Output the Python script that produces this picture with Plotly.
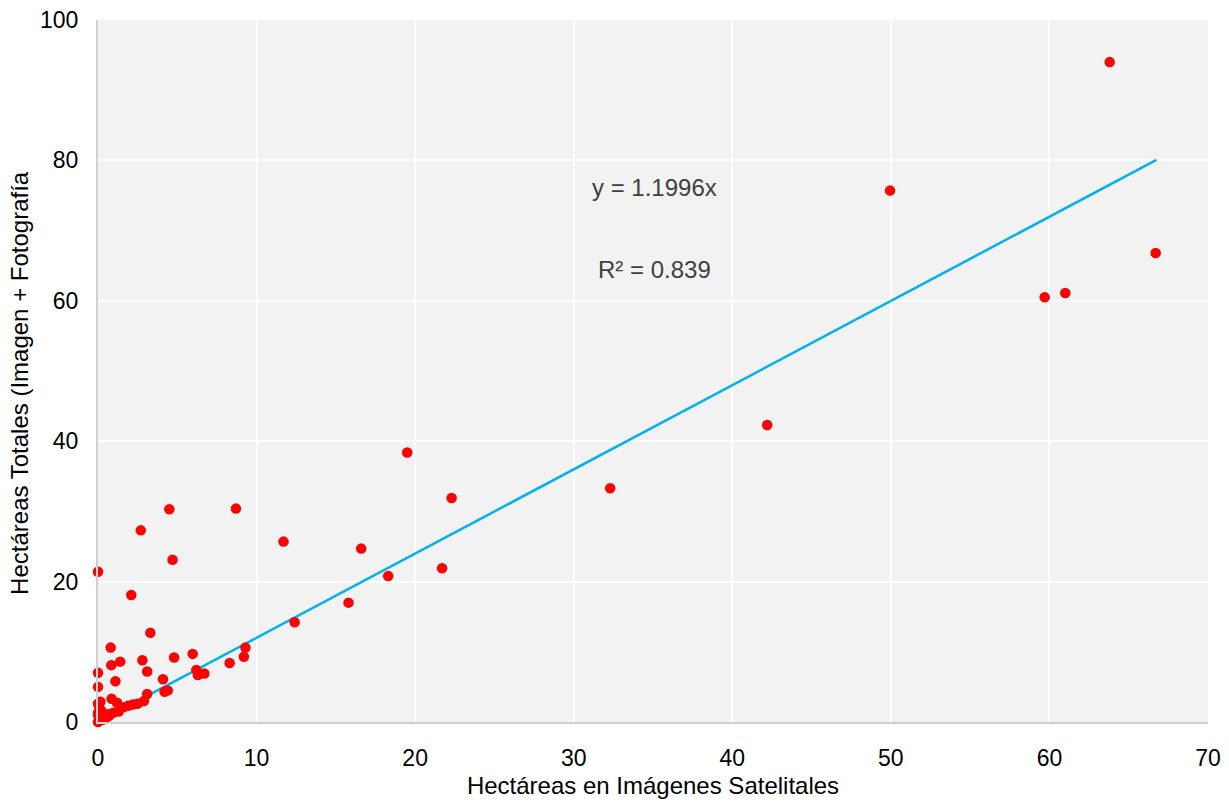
import plotly.graph_objects as go

x_sat = [63.8, 49.95, 66.7, 61.0, 59.7, 42.2, 32.3, 19.5, 22.3, 21.7,
         8.7, 4.5, 2.7, 11.7, 16.6, 4.7, 0.0, 2.1, 18.3, 15.8,
         12.4, 3.3, 0.8, 9.3, 5.97, 4.8, 9.2, 2.8, 1.4, 0.84,
         8.3, 0.0, 3.1, 6.7, 6.3, 6.2, 4.1, 1.1, 0.0, 3.1,
         4.2, 4.4, 2.9, 0.86, 1.2, 2.2, 1.9, 1.6, 1.3, 0.95,
         0.0, 0.1, 0.44, 0.3, 0.1, 0.0, 0.2, 0.05, 0.5, 0.7,
         0.15, 0.0, 0.25, 0.6, 0.35, 0.0, 2.5]
y_tot = [94.0, 75.7, 66.8, 61.1, 60.5, 42.3, 33.3, 38.4, 31.9, 21.9,
         30.4, 30.3, 27.3, 25.7, 24.7, 23.1, 21.4, 18.1, 20.8, 17.0,
         14.2, 12.7, 10.6, 10.6, 9.7, 9.2, 9.3, 8.8, 8.6, 8.1,
         8.4, 7.0, 7.2, 6.9, 6.7, 7.4, 6.1, 5.8, 5.0, 4.0,
         4.3, 4.5, 3.0, 3.3, 2.75, 2.5, 2.3, 2.1, 1.5, 1.3,
         2.6, 2.0, 1.0, 0.8, 0.5, 1.3, 1.6, 0.2, 0.6, 0.9,
         2.9, 0.0, 0.3, 1.1, 0.4, 1.0, 2.6]

slope = 1.1996
r2 = 0.839
trend_x = [0, 66.75]
trend_y = [slope * v for v in trend_x]

x_title = "Hectáreas en Imágenes Satelitales"
y_title = "Hectáreas Totales (Imagen + Fotografía"

FONT = "Liberation Sans, Arial"

fig = go.Figure()
fig.add_trace(go.Scatter(x=trend_x, y=trend_y, mode="lines",
                         line=dict(color="#00b0f0", width=2.5),
                         hoverinfo="skip", showlegend=False))
fig.add_trace(go.Scatter(x=x_sat, y=y_tot, mode="markers",
                         marker=dict(color="#ff0000", size=10.5),
                         cliponaxis=False, showlegend=False))

fig.add_annotation(x=35.1, y=76.1, text=f"y = {slope}x", showarrow=False,
                   font=dict(size=24, color="#404040", family=FONT))
fig.add_annotation(x=35.1, y=64.4, text=f"R² = {r2}", showarrow=False,
                   font=dict(size=24, color="#404040", family=FONT))

# y-axis title placed as a rotated annotation for exact positioning
fig.add_annotation(xref="paper", yref="paper", x=-0.0703, y=0.483,
                   text=y_title, textangle=-90, showarrow=False,
                   xanchor="center", yanchor="middle",
                   font=dict(size=24, color="black", family=FONT))

fig.update_layout(
    width=1229, height=803,
    margin=dict(l=98, r=21, t=20, b=81),
    paper_bgcolor="white", plot_bgcolor="#f2f2f2",
    font=dict(family=FONT, size=23, color="black"),
)
fig.update_xaxes(range=[0, 70], dtick=10, showgrid=True, gridcolor="white", gridwidth=2,
                 zeroline=False, showline=True, linecolor="#d0d0d0", linewidth=2,
                 ticks="", ticklabelstandoff=14, automargin=False,
                 ticklabeloverflow="allow", tickfont=dict(size=23),
                 title=dict(text=x_title, font=dict(size=24), standoff=8))
fig.update_yaxes(range=[0, 100], dtick=20, showgrid=True, gridcolor="white", gridwidth=2,
                 zeroline=False, showline=True, linecolor="#d0d0d0", linewidth=2,
                 ticks="", ticklabelstandoff=13, automargin=False,
                 ticklabeloverflow="allow", tickfont=dict(size=23))

# remove the default 8px page margin so the figure fills the window exactly
fig.write_html("out.html", config={"displayModeBar": False},
               post_script="document.body.style.margin='0';document.body.style.overflow='hidden';")
